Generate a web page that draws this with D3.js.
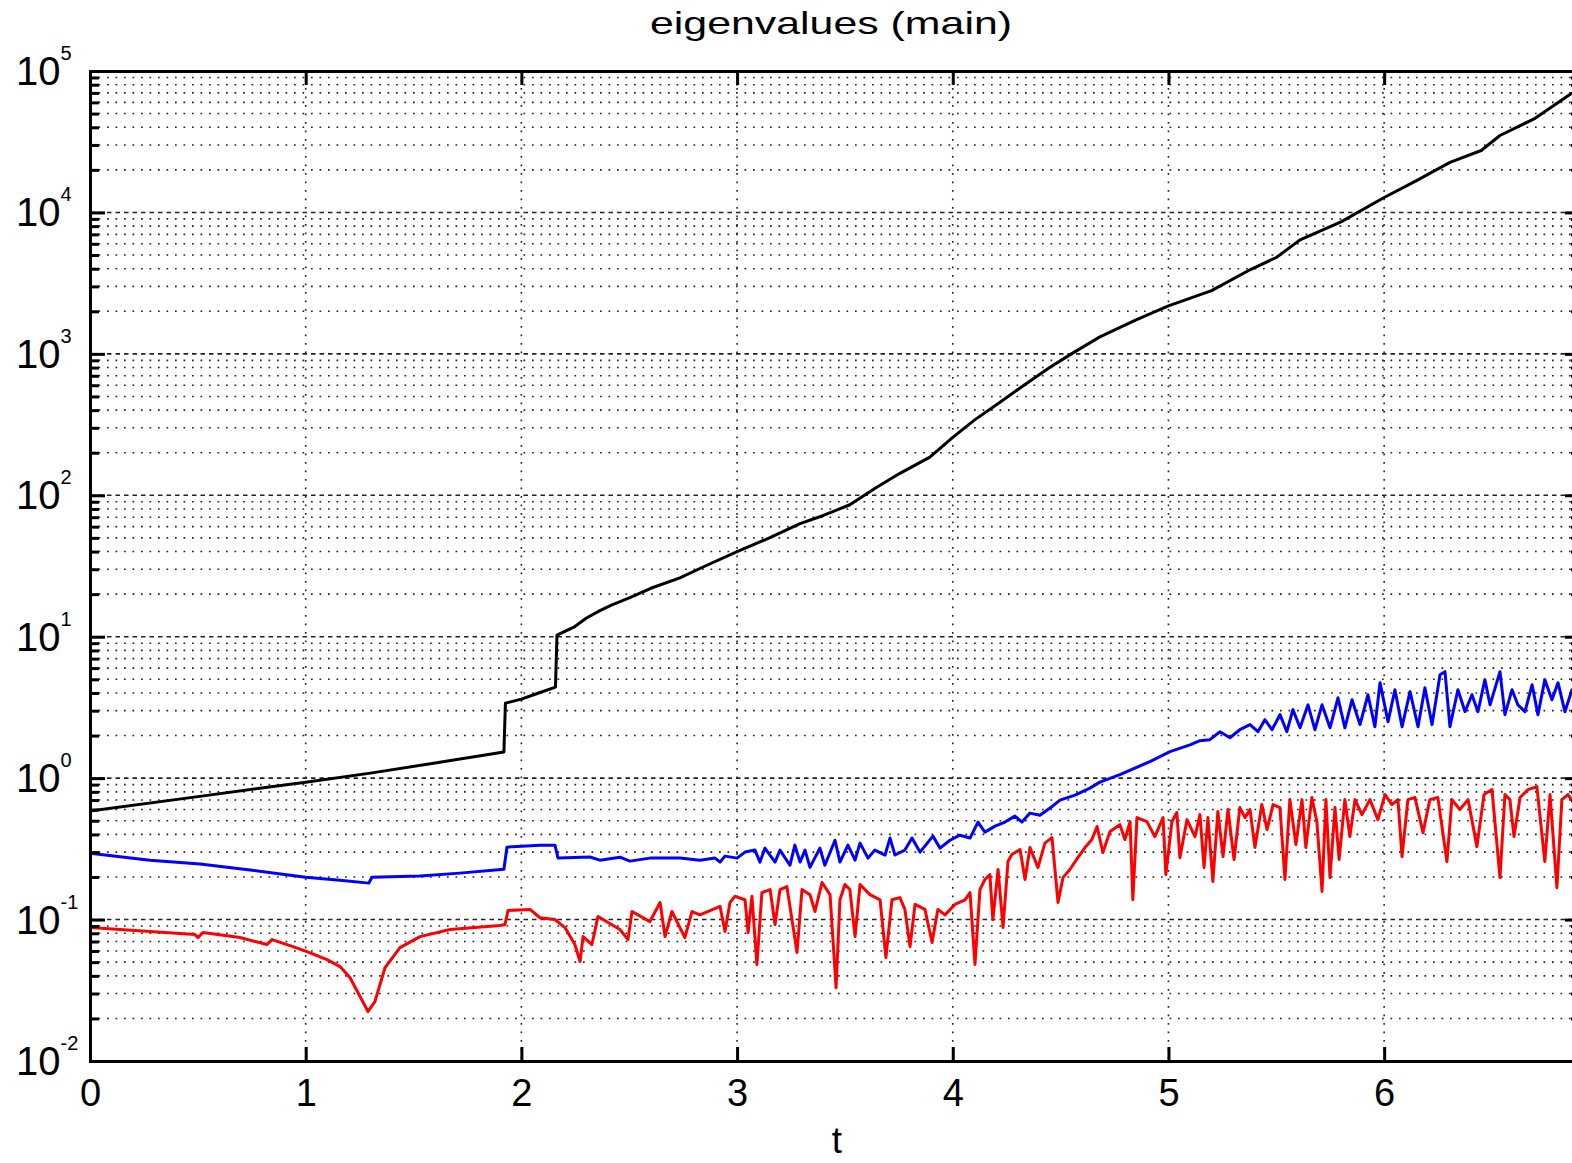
<!DOCTYPE html>
<html><head><meta charset="utf-8">
<script src="https://cdn.jsdelivr.net/npm/d3@7"></script>
<style>
html,body{margin:0;padding:0;background:#fff;overflow:hidden}
svg{display:block}
text{font-family:"Liberation Sans",Arial,Helvetica,sans-serif;fill:#000}
</style></head><body>
<svg id="chart" width="1572" height="1163"></svg>
<script>
const titleText = "eigenvalues (main)";
const xLabel = "t";
const xTicks = [0, 1, 2, 3, 4, 5, 6];
const yDecades = [-2, -1, 0, 1, 2, 3, 4, 5];
const xDomain = [0, 6.908];
const yDomain = [0.01, 1e5];

const black = [
[0,0.585],[0.5,0.74],[1.0,0.937],[1.3,1.085],[1.6,1.28],[1.919,1.53],[1.926,3.39],[2.0,3.62],
[2.08,4.0],[2.158,4.40],[2.165,10.26],[2.248,11.8],[2.30,13.5],[2.364,15.3],[2.42,16.8],[2.503,18.9],
[2.60,22.0],[2.735,26.1],[2.85,31.5],[3.0,39.9],[3.15,50],[3.292,63],[3.40,72],[3.523,85.7],
[3.64,112],[3.755,143],[3.894,186],[4.0,257],[4.10,340],[4.219,455],[4.33,600],[4.451,803],
[4.55,1000],[4.682,1318],[4.85,1740],[5.0,2183],[5.2,2800],[5.378,3930],[5.5,4800],[5.610,6397],
[5.8,8570],[6.0,12760],[6.15,16800],[6.305,22570],[6.45,27400],[6.537,35000],[6.70,46300],
[6.861,68200],[6.908,74000]
];

const blue = [
[0,0.295],[0.278,0.263],[0.510,0.247],[0.742,0.224],[1.0,0.199],[1.159,0.190],[1.293,0.181],
[1.307,0.199],[1.530,0.203],[1.715,0.213],[1.919,0.227],[1.933,0.325],[2.086,0.335],[2.156,0.335],
[2.170,0.272],[2.318,0.277],[2.364,0.263],[2.457,0.276],[2.503,0.259],[2.596,0.272],[2.735,0.272],
[2.828,0.263],[2.898,0.272],[2.921,0.255],[2.944,0.281],[3.0,0.272],[3.037,0.300],[3.083,0.310],
[3.106,0.255],[3.129,0.320],[3.176,0.255],[3.199,0.310],[3.245,0.242],[3.268,0.336],[3.292,0.255],
[3.315,0.310],[3.338,0.234],[3.384,0.320],[3.407,0.242],[3.454,0.364],[3.477,0.255],[3.514,0.336],
[3.547,0.263],[3.570,0.347],[3.607,0.272],[3.639,0.310],[3.686,0.286],[3.709,0.377],[3.732,0.286],
[3.778,0.310],[3.811,0.377],[3.848,0.300],[3.908,0.389],[3.941,0.320],[3.987,0.364],[4.033,0.395],
[4.080,0.377],[4.117,0.489],[4.149,0.415],[4.196,0.458],[4.242,0.489],[4.288,0.539],[4.321,0.489],
[4.358,0.566],[4.404,0.547],[4.451,0.614],[4.497,0.699],[4.567,0.758],[4.636,0.850],[4.682,0.937],
[4.775,1.06],[4.914,1.31],[5.007,1.54],[5.100,1.72],[5.146,1.84],[5.192,1.87],[5.239,2.13],
[5.285,1.93],[5.331,2.20],[5.378,2.39],[5.415,2.13],[5.447,2.59],[5.480,2.20],[5.517,2.81],
[5.549,2.13],[5.577,3.05],[5.610,2.27],[5.647,3.30],[5.679,2.20],[5.712,3.30],[5.749,2.27],
[5.786,3.70],[5.818,2.27],[5.851,3.58],[5.888,2.39],[5.925,3.89],[5.957,2.31],[5.981,4.73],
[6.018,2.51],[6.050,4.22],[6.083,2.31],[6.120,4.09],[6.157,2.31],[6.189,4.36],[6.222,2.39],
[6.259,5.39],[6.282,5.66],[6.305,2.31],[6.342,4.22],[6.375,2.95],[6.407,3.89],[6.435,2.95],
[6.467,4.97],[6.491,3.30],[6.537,5.66],[6.560,2.81],[6.593,4.22],[6.620,3.30],[6.653,2.95],
[6.686,4.58],[6.713,2.81],[6.745,4.97],[6.778,3.58],[6.806,4.73],[6.838,2.95],[6.871,4.22],
[6.908,3.58]
];

const red = [
[0,0.0878],[0.487,0.0783],[0.501,0.0746],[0.524,0.0810],[0.695,0.0746],[0.821,0.0666],[0.844,0.0722],
[0.941,0.0644],[1.006,0.0594],[1.099,0.0521],[1.159,0.0465],[1.205,0.0389],[1.252,0.0286],
[1.289,0.0224],[1.321,0.0263],[1.368,0.0458],[1.437,0.0634],[1.530,0.0758],[1.669,0.085],
[1.901,0.0907],[1.924,0.0922],[1.938,0.116],[2.040,0.118],[2.086,0.103],[2.156,0.100],[2.202,0.0878],
[2.248,0.0666],[2.272,0.0505],[2.286,0.0758],[2.327,0.0666],[2.355,0.105],[2.457,0.085],[2.494,0.0722],
[2.513,0.114],[2.596,0.0968],[2.643,0.132],[2.666,0.0758],[2.698,0.114],[2.758,0.0746],[2.791,0.114],
[2.828,0.108],[2.921,0.124],[2.944,0.0823],[2.967,0.132],[2.990,0.146],[3.037,0.138],[3.051,0.081],
[3.069,0.146],[3.092,0.0481],[3.115,0.155],[3.153,0.163],[3.176,0.0922],[3.199,0.163],[3.231,0.171],
[3.278,0.0585],[3.301,0.163],[3.338,0.150],[3.361,0.114],[3.394,0.183],[3.431,0.150],[3.459,0.0330],
[3.477,0.138],[3.500,0.177],[3.523,0.163],[3.547,0.0758],[3.570,0.177],[3.616,0.150],[3.663,0.138],
[3.690,0.0539],[3.718,0.138],[3.755,0.143],[3.778,0.118],[3.802,0.0644],[3.825,0.128],[3.871,0.118],
[3.904,0.0688],[3.931,0.118],[3.964,0.108],[4.010,0.128],[4.057,0.138],[4.080,0.155],[4.103,0.0481],
[4.126,0.163],[4.149,0.192],[4.172,0.208],[4.186,0.100],[4.210,0.226],[4.233,0.0878],[4.256,0.257],
[4.274,0.288],[4.312,0.313],[4.335,0.192],[4.358,0.323],[4.395,0.233],[4.427,0.347],[4.460,0.380],
[4.488,0.132],[4.511,0.198],[4.543,0.226],[4.580,0.274],[4.613,0.323],[4.645,0.368],[4.669,0.455],
[4.696,0.298],[4.729,0.419],[4.775,0.469],[4.798,0.368],[4.822,0.493],[4.835,0.138],[4.854,0.526],
[4.900,0.493],[4.937,0.386],[4.975,0.526],[4.988,0.208],[5.016,0.493],[5.039,0.571],[5.053,0.274],
[5.086,0.509],[5.123,0.386],[5.146,0.552],[5.165,0.233],[5.183,0.526],[5.206,0.186],[5.229,0.581],
[5.253,0.279],[5.276,0.600],[5.304,0.266],[5.331,0.619],[5.355,0.526],[5.378,0.600],[5.401,0.323],
[5.433,0.650],[5.457,0.433],[5.485,0.650],[5.517,0.619],[5.540,0.192],[5.563,0.705],[5.591,0.339],
[5.619,0.705],[5.637,0.323],[5.665,0.729],[5.688,0.493],[5.712,0.158],[5.730,0.705],[5.749,0.198],
[5.772,0.619],[5.791,0.266],[5.818,0.705],[5.841,0.386],[5.865,0.705],[5.897,0.552],[5.934,0.705],
[5.971,0.509],[6.004,0.765],[6.036,0.650],[6.064,0.705],[6.083,0.279],[6.110,0.705],[6.143,0.729],
[6.180,0.412],[6.212,0.705],[6.249,0.729],[6.291,0.257],[6.314,0.705],[6.351,0.600],[6.389,0.705],
[6.430,0.328],[6.463,0.765],[6.500,0.830],[6.537,0.198],[6.560,0.765],[6.583,0.705],[6.602,0.386],
[6.630,0.729],[6.667,0.830],[6.708,0.871],[6.745,0.257],[6.769,0.765],[6.801,0.168],[6.824,0.705],
[6.852,0.765],[6.885,0.650],[6.908,0.729]
];

const W = 1572, H = 1163;
const m = {left: 90, top: 71, right: 1580, bottom: 1061};
const x = d3.scaleLinear().domain(xDomain).range([m.left, m.right]);
const y = d3.scaleLog().domain(yDomain).range([m.bottom, m.top]);

const svg = d3.select("#chart");
svg.append("rect").attr("width", W).attr("height", H).attr("fill", "#fff");
svg.append("defs").append("clipPath").attr("id", "clip").append("rect")
  .attr("x", m.left).attr("y", m.top).attr("width", m.right - m.left).attr("height", m.bottom - m.top);

const majorVals = yDecades.map(e => Math.pow(10, e));
const minorVals = [];
yDecades.slice(0, -1).forEach(e => { for (let k = 2; k <= 9; k++) minorVals.push(k * Math.pow(10, e)); });

// grid
const grid = svg.append("g");
grid.selectAll("line.hmin").data(minorVals).join("line").attr("class", "hmin")
  .attr("x1", m.left).attr("x2", m.right).attr("y1", d => y(d)).attr("y2", d => y(d))
  .attr("stroke", "#222").attr("stroke-width", 1.6).attr("stroke-dasharray", "1.7,6.8");
grid.selectAll("line.hmaj").data(majorVals.slice(1, -1)).join("line").attr("class", "hmaj")
  .attr("x1", m.left).attr("x2", m.right).attr("y1", d => y(d)).attr("y2", d => y(d))
  .attr("stroke", "#222").attr("stroke-width", 1.6).attr("stroke-dasharray", "4.5,4");
grid.selectAll("line.v").data(xTicks.slice(1)).join("line").attr("class", "v")
  .attr("x1", d => x(d)).attr("x2", d => x(d)).attr("y1", m.top).attr("y2", m.bottom)
  .attr("stroke", "#222").attr("stroke-width", 1.6).attr("stroke-dasharray", "1.7,6.8");

// data
const line = d3.line().x(d => x(d[0])).y(d => y(d[1]));
const dg = svg.append("g").attr("clip-path", "url(#clip)");
[[red, "#ff0000"], [blue, "#0000ff"], [black, "#000000"]].forEach(([data, col]) => {
  dg.append("path").datum(data).attr("d", line).attr("fill", "none")
    .attr("stroke", col).attr("stroke-width", 3).attr("stroke-linejoin", "round");
});

function styleAxis(g) {
  g.attr("font-size", null).attr("font-family", null);
  g.selectAll("path.domain").attr("stroke", "#000").attr("stroke-width", 3).attr("stroke-linecap", "square");
  g.selectAll(".tick line").attr("stroke", "#000").attr("stroke-width", 3);
}

// bottom axis
const gx = svg.append("g").attr("transform", `translate(0,${m.bottom})`)
  .call(d3.axisBottom(x).tickValues(xTicks).tickSize(-14).tickSizeOuter(0).tickPadding(18).tickFormat(d3.format("d")));
styleAxis(gx);
gx.selectAll(".tick text").attr("font-size", 38).attr("fill", "#000");
// top axis
const gt = svg.append("g").attr("transform", `translate(0,${m.top})`)
  .call(d3.axisTop(x).tickValues(xTicks).tickSize(-14).tickSizeOuter(0).tickFormat(""));
styleAxis(gt);
// left axes
const gl1 = svg.append("g").attr("transform", `translate(${m.left},0)`)
  .call(d3.axisLeft(y).tickValues(minorVals).tickSize(-9).tickSizeOuter(0).tickFormat(""));
styleAxis(gl1);
const gl2 = svg.append("g").attr("transform", `translate(${m.left},0)`)
  .call(d3.axisLeft(y).tickValues(majorVals).tickSize(-15).tickSizeOuter(0).tickFormat(""));
styleAxis(gl2);
// right axes
const gr1 = svg.append("g").attr("transform", `translate(${m.right},0)`)
  .call(d3.axisRight(y).tickValues(minorVals).tickSize(-9).tickSizeOuter(0).tickFormat(""));
styleAxis(gr1);
const gr2 = svg.append("g").attr("transform", `translate(${m.right},0)`)
  .call(d3.axisRight(y).tickValues(majorVals).tickSize(-15).tickSizeOuter(0).tickFormat(""));
styleAxis(gr2);

// y tick labels 10^n
const yl = svg.append("g");
yDecades.forEach(e => {
  const t = yl.append("text").attr("x", 16).attr("y", y(Math.pow(10, e)) + 14).attr("font-size", 40);
  t.append("tspan").text("10");
  t.append("tspan").attr("dy", -25).attr("font-size", 20).text(String(e));
});

// title and x label
svg.append("text").attr("x", 831).attr("y", 34).attr("text-anchor", "middle")
  .attr("font-size", 32).attr("textLength", 362).attr("lengthAdjust", "spacingAndGlyphs").text(titleText);
svg.append("text").attr("x", 837).attr("y", 1153).attr("text-anchor", "middle")
  .attr("font-size", 37).text(xLabel);
</script>
</body></html>
